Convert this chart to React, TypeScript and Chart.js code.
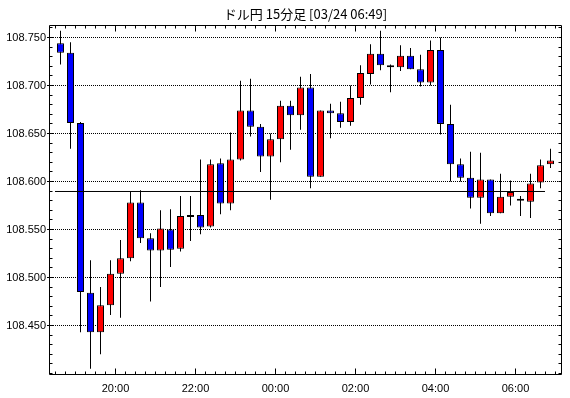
import React, { useEffect, useRef } from 'react';
import { Chart, registerables } from 'chart.js';

Chart.register(...registerables);

const TITLE = 'ドル円 15分足 [03/24 06:49]';

const times = [
  '18:30', '18:45', '19:00', '19:15', '19:30', '19:45', '20:00', '20:15', '20:30', '20:45',
  '21:00', '21:15', '21:30', '21:45', '22:00', '22:15', '22:30', '22:45', '23:00', '23:15',
  '23:30', '23:45', '00:00', '00:15', '00:30', '00:45', '01:00', '01:15', '01:30', '01:45',
  '02:00', '02:15', '02:30', '02:45', '03:00', '03:15', '03:30', '03:45', '04:00', '04:15',
  '04:30', '04:45', '05:00', '05:15', '05:30', '05:45', '06:00', '06:15', '06:30', '06:45',
];

const opens = [
  108.744, 108.734, 108.661, 108.484, 108.443, 108.471, 108.504, 108.520, 108.578, 108.541,
  108.528, 108.550, 108.530, 108.565, 108.565, 108.553, 108.619, 108.577, 108.623, 108.674,
  108.657, 108.626, 108.644, 108.679, 108.669, 108.698, 108.605, 108.674, 108.671, 108.662,
  108.687, 108.712, 108.733, 108.721, 108.719, 108.731, 108.717, 108.703, 108.737, 108.660,
  108.618, 108.604, 108.583, 108.602, 108.567, 108.584, 108.582, 108.579, 108.599, 108.618,
];
const highs = [
  108.757, 108.745, 108.662, 108.518, 108.490, 108.518, 108.539, 108.590, 108.591, 108.546,
  108.570, 108.571, 108.585, 108.585, 108.623, 108.623, 108.624, 108.651, 108.705, 108.707,
  108.660, 108.650, 108.684, 108.684, 108.709, 108.712, 108.674, 108.681, 108.683, 108.700,
  108.721, 108.743, 108.757, 108.722, 108.742, 108.739, 108.732, 108.747, 108.750, 108.680,
  108.624, 108.631, 108.630, 108.602, 108.608, 108.601, 108.585, 108.608, 108.623, 108.634,
];
const lows = [
  108.722, 108.634, 108.443, 108.405, 108.420, 108.461, 108.458, 108.517, 108.536, 108.475,
  108.490, 108.511, 108.527, 108.538, 108.545, 108.552, 108.566, 108.570, 108.622, 108.647,
  108.610, 108.581, 108.620, 108.633, 108.654, 108.593, 108.605, 108.645, 108.656, 108.658,
  108.680, 108.701, 108.716, 108.693, 108.715, 108.717, 108.699, 108.700, 108.649, 108.600,
  108.600, 108.572, 108.556, 108.564, 108.567, 108.575, 108.564, 108.562, 108.593, 108.614,
];
const closes = [
  108.734, 108.661, 108.485, 108.443, 108.471, 108.504, 108.520, 108.578, 108.541, 108.528,
  108.551, 108.529, 108.564, 108.563, 108.552, 108.618, 108.577, 108.623, 108.674, 108.657,
  108.626, 108.644, 108.679, 108.669, 108.698, 108.605, 108.674, 108.671, 108.662, 108.687,
  108.713, 108.733, 108.721, 108.719, 108.731, 108.717, 108.703, 108.737, 108.660, 108.618,
  108.604, 108.583, 108.602, 108.567, 108.584, 108.589, 108.580, 108.598, 108.617, 108.622,
];

const yTickValues = [108.45, 108.5, 108.55, 108.6, 108.65, 108.7, 108.75];
const yMinorTicks = [
  108.40, 108.41, 108.42, 108.43, 108.44, 108.45, 108.46, 108.47, 108.48, 108.49,
  108.50, 108.51, 108.52, 108.53, 108.54, 108.55, 108.56, 108.57, 108.58, 108.59,
  108.60, 108.61, 108.62, 108.63, 108.64, 108.65, 108.66, 108.67, 108.68, 108.69,
  108.70, 108.71, 108.72, 108.73, 108.74, 108.75, 108.76,
];
const xTickLabels = ['20:00', '22:00', '00:00', '02:00', '04:00', '06:00'];

const refLevel = 108.5896;
const refStart = -0.55;
const refEnd = 48.45;

const Y_MIN = 108.39844;
const Y_MAX = 108.76302;
const X_MIN = -1.15;
const X_MAX = 50.15;

const UP = '#ff0000';
const DOWN = '#0000ff';

const framePlugin = {
  id: 'frameTicks',
  afterDatasetsDraw(chart: any) {
    const { ctx, chartArea: a, scales } = chart;
    const xs = scales.x;
    const ys = scales.y;
    ctx.save();
    ctx.strokeStyle = '#000';
    ctx.lineWidth = 1;
    ctx.setLineDash([]);
    const L = a.left + 0.5;
    const R = a.right - 0.5;
    const T = a.top + 0.5;
    const B = a.bottom - 0.5;
    ctx.beginPath();
    ctx.rect(L, T, R - L, B - T);
    for (let i = 0; i <= times.length; i++) {
      const px = Math.floor(xs.getPixelForValue(i - 0.5)) + 0.5;
      const major = i < times.length && xTickLabels.includes(times[i]);
      const len = major ? 6 : 3;
      ctx.moveTo(px, T);
      ctx.lineTo(px, T + len);
      ctx.moveTo(px, B);
      ctx.lineTo(px, B - len);
    }
    for (const v of yMinorTicks) {
      const py = Math.floor(ys.getPixelForValue(v)) + 0.5;
      const major = yTickValues.some((t) => Math.abs(t - v) < 1e-6);
      ctx.moveTo(major ? L - 2.5 : L, py);
      ctx.lineTo(L + (major ? 4 : 3), py);
      ctx.moveTo(R, py);
      ctx.lineTo(R - 3, py);
    }
    ctx.stroke();
    ctx.restore();
  },
};

export default function App() {
  const canvasRef = useRef<HTMLCanvasElement | null>(null);

  useEffect(() => {
    const canvas = canvasRef.current;
    if (!canvas) return;

    const bodies = opens.map((o, i) => ({ x: i, y: [o, closes[i]] }));
    const wicks = lows.map((l, i) => ({ x: i, y: [l, highs[i]] }));
    const colors = opens.map((o, i) => (closes[i] >= o ? UP : DOWN));

    const tickFont = { family: '"Liberation Sans", Arial, sans-serif', size: 11 };

    const chart = new Chart(canvas, {
      type: 'bar',
      data: {
        datasets: [
          {
            type: 'line',
            data: [
              { x: refStart, y: refLevel },
              { x: refEnd, y: refLevel },
            ],
            borderColor: '#000',
            borderWidth: 1,
            pointRadius: 0,
            order: 0,
          } as any,
          {
            type: 'bar',
            data: bodies as any,
            backgroundColor: colors,
            borderColor: '#000',
            borderWidth: 1,
            borderSkipped: false,
            barThickness: 7,
            grouped: false,
            inflateAmount: 0,
            order: 1,
          } as any,
          {
            type: 'bar',
            data: wicks as any,
            backgroundColor: '#000',
            borderWidth: 0,
            barThickness: 1,
            grouped: false,
            inflateAmount: 0,
            order: 2,
          } as any,
        ],
      },
      options: {
        responsive: false,
        animation: false,
        devicePixelRatio: 1,
        events: [],
        layout: { padding: { left: 0, right: 8, top: 0, bottom: 0 } },
        plugins: {
          legend: { display: false },
          tooltip: { enabled: false },
          title: {
            display: true,
            text: TITLE,
            fullSize: false,
            color: '#000',
            font: { family: '"Noto Sans CJK JP", sans-serif', size: 13, weight: 'normal', lineHeight: 1.2 },
            padding: { top: 6, bottom: 3.4 },
          },
        },
        scales: {
          x: {
            type: 'linear',
            min: X_MIN,
            max: X_MAX,
            bounds: 'data',
            offset: false,
            afterBuildTicks: (s: any) => {
              s.ticks = xTickLabels.map((l) => ({ value: times.indexOf(l) - 0.5 }));
            },
            afterFit: (s: any) => {
              s.height = 23;
            },
            ticks: {
              autoSkip: false,
              maxRotation: 0,
              minRotation: 0,
              color: '#000',
              font: tickFont,
              padding: 7,
              callback: (v: any) => times[Math.round(Number(v) + 0.5)],
            },
            grid: { display: false, drawTicks: false },
            border: { display: false },
          },
          y: {
            type: 'linear',
            position: 'left',
            min: Y_MIN,
            max: Y_MAX,
            bounds: 'data',
            afterBuildTicks: (s: any) => {
              s.ticks = yTickValues.map((v) => ({ value: v }));
            },
            afterFit: (s: any) => {
              s.width = 49;
            },
            ticks: {
              color: '#000',
              font: tickFont,
              padding: 3,
              callback: (v: any) => Number(v).toFixed(3),
            },
            grid: { color: '#000', lineWidth: 1, drawTicks: false },
            border: { display: false, dash: [1, 1] },
          },
        },
      } as any,
      plugins: [framePlugin],
    });

    return () => chart.destroy();
  }, []);

  return (
    <div style={{ position: 'absolute', left: 0, top: 0, width: 570, height: 398, background: '#fff' }}>
      <canvas ref={canvasRef} width={570} height={398} style={{ display: 'block' }} />
    </div>
  );
}
